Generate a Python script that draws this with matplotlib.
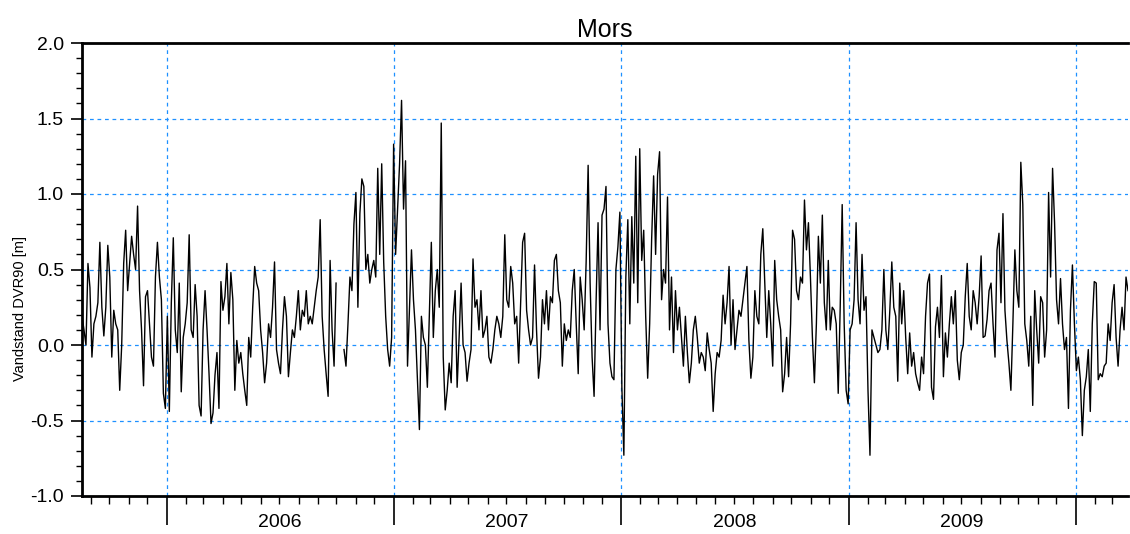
import numpy as np
import pandas as pd
import matplotlib
matplotlib.use("Agg")
import matplotlib.pyplot as plt
import matplotlib.dates as mdates
from matplotlib.ticker import MultipleLocator
import matplotlib.transforms as mtransforms

title = "Mors"
ylabel = "Vandstand DVR90 [m]"
start_date = "2005-08-18"
end_date = "2010-03-26"
year_labels = ["2006", "2007", "2008", "2009"]

seg1 = [0.19, 0.10, 0.00, 0.54, 0.38, -0.08, 0.14, 0.19, 0.28, 0.68, 0.25, 0.06, 0.25, 0.66, 0.45,
        -0.08, 0.23, 0.14, 0.10, -0.30, 0.00, 0.54, 0.76, 0.36, 0.54, 0.72, 0.60, 0.50, 0.92, 0.36,
        0.10, -0.27, 0.32, 0.36, 0.14, -0.08, -0.14, 0.45, 0.68, 0.45, 0.30, -0.32, -0.42, 0.19, -0.44,
        0.28, 0.71, 0.10, -0.05, 0.41, -0.31, 0.05, 0.14, 0.28, 0.73, 0.10, 0.05]
seg2 = [0.40, 0.19, -0.40, -0.47, 0.10, 0.36, 0.10, -0.19, -0.52, -0.45, -0.20, -0.05, -0.42, 0.42, 0.23,
        0.32, 0.54, 0.14, 0.48, 0.30, -0.30, 0.03, -0.12, -0.05, -0.19, -0.30, -0.40, 0.05, -0.08, 0.25,
        0.52, 0.41, 0.36, 0.10, -0.05, -0.25, -0.12, 0.14, 0.05, 0.25, 0.55, -0.03, -0.12, -0.19, 0.10,
        0.32, 0.19, -0.21, -0.05, 0.10, 0.05, 0.19, 0.36, 0.10, 0.23, 0.19, 0.36, 0.14]
seg3 = [0.19, 0.14, 0.25, 0.36, 0.45, 0.83, 0.19, -0.03, -0.19, -0.34, 0.56, 0.10, -0.14, 0.41, np.nan,
        np.nan, np.nan, -0.03, -0.14, 0.14, 0.45, 0.36, 0.80, 1.01, 0.25, 0.87, 1.10, 1.05, 0.50, 0.60,
        0.41, 0.50, 0.56, 0.45, 1.17, 0.60, 1.20, 0.55, 0.19, -0.03, -0.14, 0.05, 1.33, 0.60, 0.90,
        1.20, 1.62, 0.90, 1.22, -0.14, 0.25, 0.63, 0.30, 0.10, -0.23, -0.56, 0.19, 0.05]
seg4 = [0.00, -0.28, 0.19, 0.68, 0.05, 0.36, 0.50, 0.25, 1.47, -0.08, -0.43, -0.30, -0.12, -0.25, 0.19,
        0.36, -0.28, 0.05, 0.41, 0.00, -0.05, -0.24, -0.12, -0.03, 0.57, 0.25, 0.30, 0.10, 0.36, 0.05,
        0.10, 0.19, -0.08, -0.12, -0.03, 0.10, 0.19, 0.14, 0.05, 0.19, 0.73, 0.30, 0.25, 0.52, 0.41,
        0.14, 0.19, -0.12, 0.28, 0.68, 0.74, 0.23, 0.10, 0.00, 0.05, 0.53, 0.10, -0.22]
seg5 = [-0.08, 0.30, 0.14, 0.36, 0.10, 0.32, 0.28, 0.56, 0.60, 0.36, 0.28, -0.14, 0.14, 0.03, 0.10,
        0.05, 0.36, 0.50, 0.14, -0.19, 0.45, 0.30, 0.10, 0.55, 1.19, 0.41, -0.08, -0.34, 0.28, 0.81,
        0.10, 0.86, 0.90, 1.05, 0.14, -0.12, -0.21, -0.23, 0.50, 0.65, 0.88, -0.28, -0.73, 0.45, 0.83,
        0.14, 0.85, 0.41, 1.25, 0.28, 1.30, 0.56, 0.76, 0.19, -0.22, 0.14, 0.70, 1.12]
seg6 = [0.60, 1.13, 1.28, 0.30, 0.50, 0.41, 0.98, 0.10, 0.45, -0.05, 0.36, 0.10, 0.25, 0.05, -0.14,
        0.19, -0.05, -0.25, -0.12, 0.10, 0.19, 0.05, -0.12, -0.05, -0.08, -0.17, 0.08, -0.03, -0.12, -0.44,
        -0.19, -0.05, -0.08, 0.03, 0.33, 0.14, 0.28, 0.52, 0.00, 0.30, -0.03, 0.10, 0.23, 0.19, 0.30,
        0.41, 0.52, 0.03, -0.22, -0.08, 0.36, 0.19, 0.14, 0.60, 0.77, 0.41, 0.05, 0.36]
seg7 = [0.14, -0.14, 0.56, 0.30, 0.19, 0.10, -0.31, -0.19, 0.05, -0.21, 0.14, 0.76, 0.70, 0.36, 0.30,
        0.45, 0.41, 0.96, 0.63, 0.81, 0.45, 0.05, -0.25, 0.14, 0.72, 0.41, 0.86, 0.28, 0.10, 0.56,
        0.10, 0.25, 0.23, 0.14, -0.32, 0.25, 0.93, 0.14, -0.30, -0.39, 0.10, 0.14, 0.30, 0.81, 0.30,
        0.14, 0.60, 0.23, 0.32, -0.30, -0.73, 0.10, 0.05, 0.00, -0.05, -0.03, 0.10, 0.50]
seg8 = [0.10, -0.03, 0.23, 0.55, 0.25, 0.19, -0.24, 0.41, 0.14, 0.36, 0.05, -0.19, 0.08, -0.14, -0.05,
        -0.19, -0.25, -0.30, -0.08, -0.19, 0.19, 0.41, 0.47, -0.28, -0.36, 0.12, 0.25, 0.05, 0.46, -0.21,
        0.08, -0.08, 0.14, 0.32, 0.14, 0.36, -0.10, -0.23, -0.05, 0.00, 0.32, 0.54, 0.19, 0.10, 0.36,
        0.28, 0.14, 0.32, 0.59, 0.05, 0.06, 0.17, 0.36, 0.41, 0.14, -0.08, 0.63, 0.74]
seg9 = [0.28, 0.87, 0.23, 0.03, -0.12, -0.30, 0.14, 0.63, 0.36, 0.25, 1.21, 0.93, 0.14, 0.03, -0.14,
        0.19, -0.40, 0.36, 0.10, -0.12, 0.32, 0.28, -0.08, 0.10, 1.01, 0.45, 1.17, 0.81, 0.30, 0.14,
        0.44, 0.14, -0.03, 0.05, -0.42, 0.23, 0.53, 0.14, -0.17, -0.08, -0.23, -0.60, -0.30, -0.21, -0.03,
        -0.44, 0.14, 0.42, 0.41, -0.23, -0.19, -0.21, -0.14, -0.12, 0.14, 0.03, 0.28, 0.40, 0.05,
        -0.14, 0.10, 0.25, 0.10, 0.45, 0.36]

values = np.array(seg1 + seg2 + seg3 + seg4 + seg5 + seg6 + seg7 + seg8 + seg9, dtype=float)
dates = pd.date_range(start_date, end_date, periods=len(values))

W, H = 1130, 534
fig = plt.figure(figsize=(W / 100, H / 100), dpi=100)
plt.rcParams['font.family'] = ['Liberation Sans', 'DejaVu Sans']
ax = fig.add_axes([82 / W, 1 - 496 / H, (1128 - 82) / W, (496 - 43) / H])

grid_color = "#1E90FF"
ax.plot(dates, values, color="black", linewidth=1.0, zorder=3)

ax.set_xlim(pd.Timestamp(start_date), pd.Timestamp(end_date))
ax.set_ylim(-1.0, 2.0)

ax.yaxis.set_major_locator(MultipleLocator(0.5))
ax.yaxis.set_minor_locator(MultipleLocator(0.1))
ax.yaxis.set_major_formatter(matplotlib.ticker.FormatStrFormatter("%.1f"))
ax.tick_params(axis="y", which="major", length=8, width=1.2, labelsize=14, pad=5)
ax.tick_params(axis="y", which="minor", length=4, width=1.0)

ax.xaxis.set_major_locator(mdates.YearLocator())
ax.xaxis.set_minor_locator(mdates.MonthLocator())
ax.xaxis.set_major_formatter(matplotlib.ticker.NullFormatter())
ax.tick_params(axis="x", which="major", length=21, width=1.2)
ax.tick_params(axis="x", which="minor", length=6, width=1.0)

ax.grid(True, which="major", axis="both", color=grid_color, linestyle=(0, (3, 3)), linewidth=0.9, zorder=1)

trans = mtransforms.blended_transform_factory(ax.transData, ax.transAxes)
for lab in year_labels:
    mid = pd.Timestamp(f"{lab}-07-02")
    ax.text(mid, -0.058, lab, transform=trans, ha="center", va="center", fontsize=14)

for s in ["left", "bottom", "top"]:
    ax.spines[s].set_linewidth(2.0)
ax.spines["right"].set_visible(False)

ax.set_ylabel(ylabel, fontsize=10.5)
ax.yaxis.set_label_coords(-0.0526, 0.413)
ax.set_title(title, fontsize=18, pad=4)

fig.savefig("out.png", dpi=100)
